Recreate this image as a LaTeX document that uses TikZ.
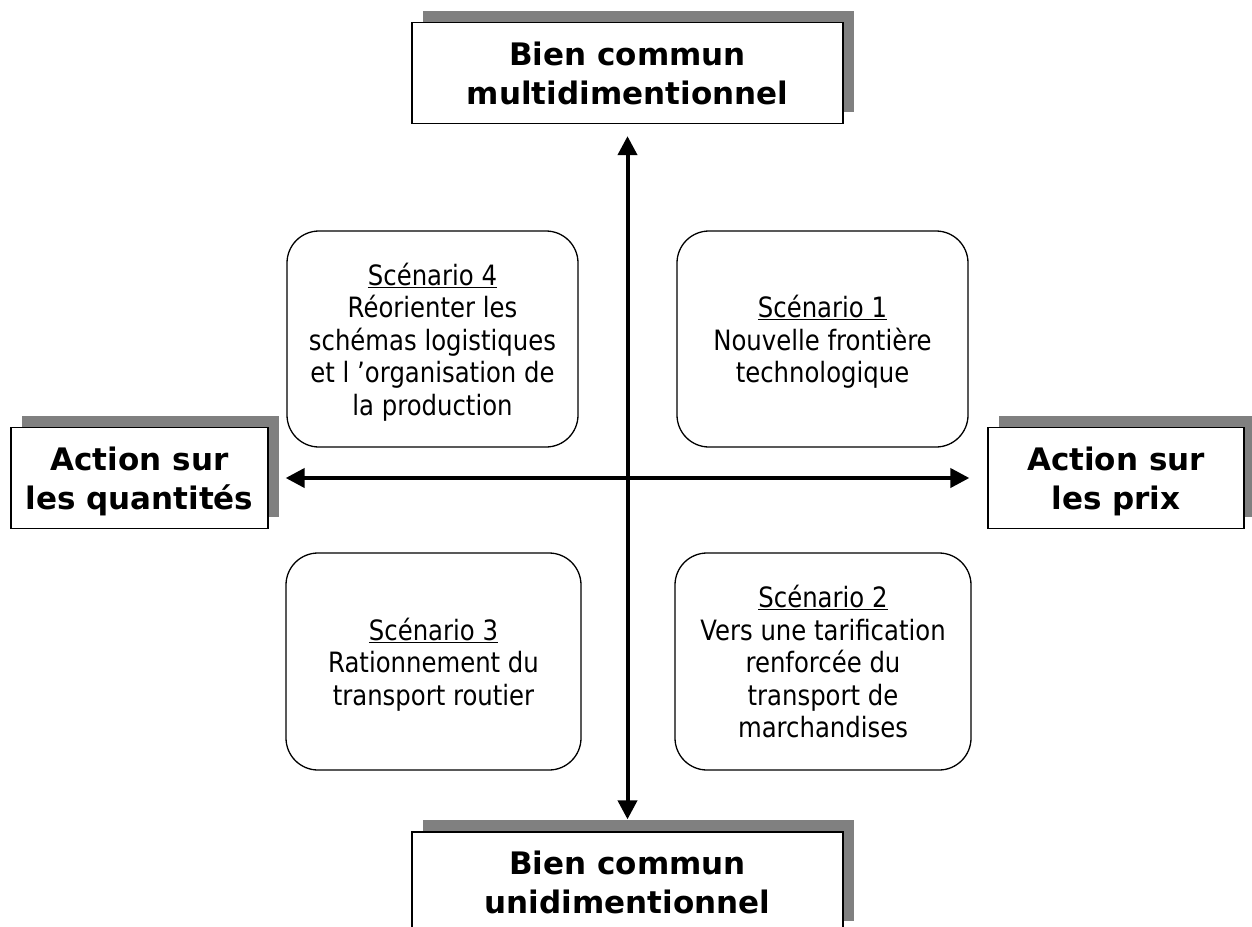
\documentclass[tikz,border=0pt]{standalone}
\usepackage{fontspec}
\setmainfont{DejaVu Sans}
\newfontfamily\scenfont{DejaVu Sans}[FakeStretch=0.87]
\usetikzlibrary{arrows.meta,shadows}
\definecolor{shadowgray}{HTML}{808080}
\tikzset{
  titlebox/.style={draw=black, line width=1.3pt, fill=white, rectangle,
    minimum width=#1, minimum height=101pt, inner sep=0pt, align=center,
    font=\fontsize{31}{39}\selectfont\bfseries,
    drop shadow={fill=shadowgray, opacity=1, shadow xshift=11pt, shadow yshift=12pt}},
  scenbox/.style={draw=black, line width=1.3pt, fill=white, rectangle,
    rounded corners=32pt, inner sep=0pt, align=center,
    font=\scenfont\fontsize{28}{32.5}\selectfont},
  axisarrow/.style={line width=4pt, {Triangle[length=19pt,width=19pt]}-{Triangle[length=19pt,width=19pt]}}
}
\newcommand{\nodepth}[1]{\raisebox{0pt}[\height][0pt]{#1}}
\begin{document}
\begin{tikzpicture}[x=1pt,y=-1pt]
\useasboundingbox (0,0) rectangle (1252,926);
\clip (0,0) rectangle (1252,926);
\fill[white] (0,0) rectangle (1252,926);

\node[titlebox=431pt] (top) at (627.5,73) {Bien commun\\\nodepth{multidimentionnel}};
\node[titlebox=431pt] (bot) at (627.5,882.5) {Bien commun\\\nodepth{unidimentionnel}};
\node[titlebox=257pt] (left) at (139.5,478) {Action sur\\\nodepth{les quantités}};
\node[titlebox=256pt] (right) at (1116,478) {Action sur\\\nodepth{les prix}};

\node[scenbox, minimum width=291pt, minimum height=216pt] (s4) at (432.5,339)
  {\underline{Scénario 4}\\Réorienter les\\schémas logistiques\\et l ’organisation de\\\nodepth{la production}};
\node[scenbox, minimum width=291pt, minimum height=216pt] (s1) at (822.5,339)
  {\underline{Scénario 1}\\Nouvelle frontière\\\nodepth{technologique}};
\node[scenbox, minimum width=295pt, minimum height=217pt] (s3) at (433.5,661.5)
  {\underline{Scénario 3}\\Rationnement du\\\nodepth{transport routier}};
\node[scenbox, minimum width=296pt, minimum height=217pt] (s2) at (823,661.5)
  {\underline{Scénario 2}\\Vers une tarification\\renforcée du\\transport de\\\nodepth{marchandises}};

\draw[axisarrow, shorten <=12pt, shorten >=12pt] (top) -- (bot);
\draw[axisarrow, shorten <=17pt, shorten >=18pt] (left) -- (right);
\end{tikzpicture}
\end{document}
